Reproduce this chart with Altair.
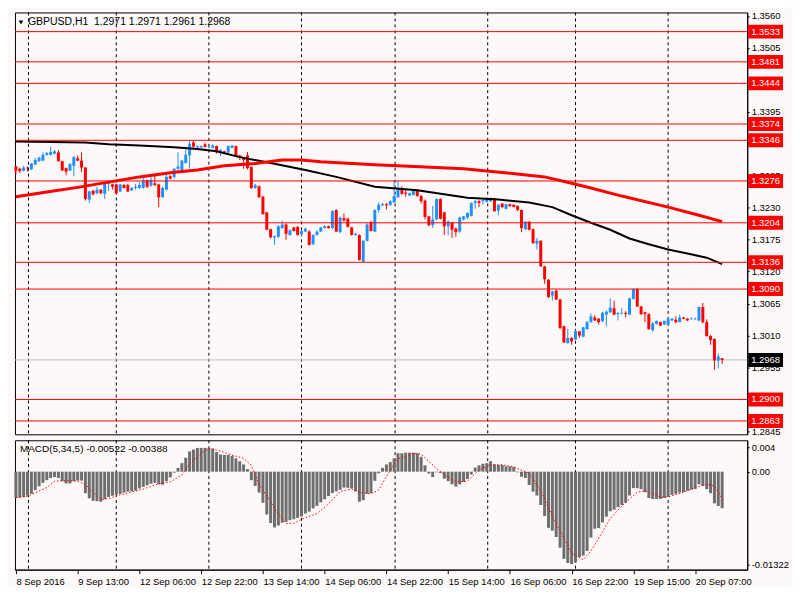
import altair as alt
import pandas as pd

# ---------------- data ----------------
opens = [
    1.3301, 1.3297, 1.3294, 1.3299, 1.3296, 1.3304, 1.3310, 1.3311, 1.3321, 1.3321,
    1.3323, 1.3325, 1.3310, 1.3298, 1.3294, 1.3302, 1.3315, 1.3311, 1.3299, 1.3244,
    1.3259, 1.3255, 1.3261, 1.3254, 1.3271, 1.3270, 1.3270, 1.3258, 1.3269, 1.3269,
    1.3260, 1.3264, 1.3264, 1.3264, 1.3277, 1.3268, 1.3272, 1.3270, 1.3248, 1.3261,
    1.3284, 1.3283, 1.3297, 1.3295, 1.3307, 1.3320, 1.3342, 1.3334, 1.3334, 1.3339,
    1.3334, 1.3333, 1.3336, 1.3326, 1.3327, 1.3325, 1.3333, 1.3336, 1.3320, 1.3315,
    1.3320, 1.3300, 1.3264, 1.3267, 1.3249, 1.3222, 1.3193, 1.3179, 1.3180, 1.3195,
    1.3201, 1.3183, 1.3196, 1.3197, 1.3184, 1.3189, 1.3189, 1.3167, 1.3183, 1.3189,
    1.3195, 1.3198, 1.3195, 1.3226, 1.3188, 1.3212, 1.3211, 1.3196, 1.3183, 1.3183,
    1.3137, 1.3173, 1.3205, 1.3189, 1.3226, 1.3234, 1.3236, 1.3235, 1.3239, 1.3248,
    1.3261, 1.3256, 1.3251, 1.3252, 1.3259, 1.3250, 1.3242, 1.3215, 1.3200, 1.3210,
    1.3245, 1.3222, 1.3198, 1.3204, 1.3194, 1.3189, 1.3210, 1.3213, 1.3216, 1.3238,
    1.3241, 1.3241, 1.3240, 1.3241, 1.3246, 1.3225, 1.3237, 1.3228, 1.3236, 1.3235,
    1.3233, 1.3226, 1.3193, 1.3206, 1.3193, 1.3168, 1.3173, 1.3129, 1.3106, 1.3079,
    1.3087, 1.3072, 1.3026, 1.2997, 1.3006, 1.3003, 1.3017, 1.3008, 1.3021, 1.3033,
    1.3041, 1.3039, 1.3035, 1.3046, 1.3050, 1.3057, 1.3047, 1.3048, 1.3049, 1.3046,
    1.3073, 1.3090, 1.3060, 1.3050, 1.3047, 1.3019, 1.3030, 1.3033, 1.3029, 1.3029,
    1.3036, 1.3037, 1.3033, 1.3041, 1.3039, 1.3038, 1.3038, 1.3036, 1.3059, 1.3033,
    1.3009, 1.3004, 1.2967, 1.2971,
]
highs = [
    1.3302, 1.3299, 1.3302, 1.3301, 1.3307, 1.3316, 1.3318, 1.3325, 1.3326, 1.3335,
    1.3329, 1.3329, 1.3311, 1.3299, 1.3307, 1.3319, 1.3320, 1.3325, 1.3300, 1.3259,
    1.3261, 1.3266, 1.3262, 1.3272, 1.3276, 1.3271, 1.3271, 1.3271, 1.3271, 1.3271,
    1.3266, 1.3271, 1.3274, 1.3281, 1.3278, 1.3284, 1.3287, 1.3271, 1.3266, 1.3290,
    1.3286, 1.3298, 1.3325, 1.3312, 1.3335, 1.3346, 1.3346, 1.3337, 1.3337, 1.3342,
    1.3338, 1.3339, 1.3337, 1.3331, 1.3328, 1.3337, 1.3338, 1.3337, 1.3321, 1.3317,
    1.3326, 1.3301, 1.3271, 1.3268, 1.3250, 1.3223, 1.3194, 1.3182, 1.3200, 1.3208,
    1.3203, 1.3193, 1.3197, 1.3198, 1.3191, 1.3196, 1.3191, 1.3184, 1.3191, 1.3197,
    1.3200, 1.3199, 1.3226, 1.3227, 1.3215, 1.3220, 1.3213, 1.3197, 1.3187, 1.3184,
    1.3174, 1.3203, 1.3208, 1.3227, 1.3239, 1.3238, 1.3238, 1.3243, 1.3277, 1.3277,
    1.3267, 1.3262, 1.3256, 1.3260, 1.3262, 1.3252, 1.3244, 1.3216, 1.3233, 1.3246,
    1.3246, 1.3223, 1.3208, 1.3205, 1.3196, 1.3215, 1.3216, 1.3222, 1.3239, 1.3243,
    1.3243, 1.3244, 1.3247, 1.3248, 1.3247, 1.3236, 1.3238, 1.3237, 1.3237, 1.3236,
    1.3234, 1.3227, 1.3207, 1.3207, 1.3194, 1.3178, 1.3174, 1.3130, 1.3107, 1.3087,
    1.3089, 1.3073, 1.3027, 1.3021, 1.3007, 1.3020, 1.3018, 1.3025, 1.3035, 1.3048,
    1.3045, 1.3040, 1.3051, 1.3053, 1.3074, 1.3070, 1.3050, 1.3057, 1.3052, 1.3075,
    1.3091, 1.3091, 1.3061, 1.3051, 1.3048, 1.3033, 1.3036, 1.3034, 1.3036, 1.3042,
    1.3040, 1.3043, 1.3046, 1.3042, 1.3040, 1.3041, 1.3041, 1.3060, 1.3066, 1.3038,
    1.3011, 1.3005, 1.2979, 1.2971,
]
lows = [
    1.3287, 1.3290, 1.3292, 1.3292, 1.3295, 1.3304, 1.3309, 1.3310, 1.3319, 1.3320,
    1.3322, 1.3309, 1.3293, 1.3286, 1.3293, 1.3284, 1.3310, 1.3291, 1.3242, 1.3238,
    1.3251, 1.3253, 1.3253, 1.3245, 1.3259, 1.3261, 1.3253, 1.3257, 1.3263, 1.3257,
    1.3259, 1.3261, 1.3262, 1.3263, 1.3264, 1.3266, 1.3267, 1.3231, 1.3247, 1.3260,
    1.3279, 1.3280, 1.3295, 1.3294, 1.3306, 1.3297, 1.3333, 1.3332, 1.3332, 1.3333,
    1.3332, 1.3332, 1.3323, 1.3319, 1.3323, 1.3323, 1.3332, 1.3317, 1.3312, 1.3297,
    1.3296, 1.3262, 1.3262, 1.3247, 1.3218, 1.3191, 1.3177, 1.3166, 1.3178, 1.3193,
    1.3175, 1.3182, 1.3189, 1.3182, 1.3182, 1.3188, 1.3165, 1.3166, 1.3182, 1.3188,
    1.3194, 1.3194, 1.3193, 1.3188, 1.3186, 1.3206, 1.3196, 1.3182, 1.3182, 1.3139,
    1.3136, 1.3172, 1.3189, 1.3188, 1.3221, 1.3233, 1.3227, 1.3233, 1.3238, 1.3247,
    1.3252, 1.3249, 1.3250, 1.3251, 1.3249, 1.3237, 1.3210, 1.3198, 1.3195, 1.3208,
    1.3210, 1.3183, 1.3183, 1.3178, 1.3180, 1.3187, 1.3208, 1.3211, 1.3215, 1.3228,
    1.3231, 1.3235, 1.3239, 1.3240, 1.3223, 1.3217, 1.3229, 1.3227, 1.3231, 1.3231,
    1.3224, 1.3188, 1.3192, 1.3191, 1.3168, 1.3158, 1.3128, 1.3099, 1.3075, 1.3070,
    1.3071, 1.3021, 1.2997, 1.2996, 1.2994, 1.3002, 1.3006, 1.3007, 1.3020, 1.3032,
    1.3035, 1.3029, 1.3033, 1.3026, 1.3049, 1.3045, 1.3036, 1.3046, 1.3041, 1.3045,
    1.3072, 1.3059, 1.3045, 1.3033, 1.3020, 1.3017, 1.3029, 1.3026, 1.3028, 1.3028,
    1.3035, 1.3031, 1.3033, 1.3038, 1.3035, 1.3037, 1.3037, 1.3034, 1.3031, 1.3008,
    1.2994, 1.2951, 1.2953, 1.2961,
]
closes = [
    1.3294, 1.3293, 1.3299, 1.3298, 1.3306, 1.3312, 1.3316, 1.3321, 1.3324, 1.3326,
    1.3327, 1.3310, 1.3294, 1.3292, 1.3305, 1.3317, 1.3311, 1.3299, 1.3245, 1.3258,
    1.3253, 1.3261, 1.3255, 1.3271, 1.3274, 1.3266, 1.3255, 1.3270, 1.3264, 1.3258,
    1.3264, 1.3266, 1.3269, 1.3277, 1.3266, 1.3278, 1.3269, 1.3248, 1.3264, 1.3283,
    1.3280, 1.3297, 1.3301, 1.3311, 1.3321, 1.3340, 1.3335, 1.3336, 1.3336, 1.3335,
    1.3335, 1.3337, 1.3325, 1.3329, 1.3324, 1.3336, 1.3337, 1.3319, 1.3316, 1.3312,
    1.3298, 1.3264, 1.3269, 1.3248, 1.3219, 1.3192, 1.3179, 1.3181, 1.3198, 1.3201,
    1.3185, 1.3191, 1.3190, 1.3183, 1.3190, 1.3194, 1.3166, 1.3183, 1.3189, 1.3196,
    1.3198, 1.3195, 1.3224, 1.3189, 1.3213, 1.3208, 1.3197, 1.3183, 1.3185, 1.3140,
    1.3173, 1.3201, 1.3190, 1.3226, 1.3235, 1.3236, 1.3234, 1.3241, 1.3250, 1.3261,
    1.3254, 1.3254, 1.3255, 1.3259, 1.3250, 1.3241, 1.3214, 1.3200, 1.3210, 1.3245,
    1.3211, 1.3198, 1.3206, 1.3192, 1.3188, 1.3213, 1.3215, 1.3221, 1.3238, 1.3241,
    1.3238, 1.3243, 1.3245, 1.3246, 1.3224, 1.3235, 1.3231, 1.3236, 1.3233, 1.3231,
    1.3226, 1.3195, 1.3206, 1.3192, 1.3169, 1.3173, 1.3129, 1.3107, 1.3076, 1.3086,
    1.3072, 1.3023, 1.2998, 1.3006, 1.3000, 1.3018, 1.3010, 1.3024, 1.3033, 1.3043,
    1.3036, 1.3033, 1.3049, 1.3051, 1.3058, 1.3046, 1.3049, 1.3049, 1.3047, 1.3074,
    1.3090, 1.3060, 1.3047, 1.3047, 1.3021, 1.3031, 1.3035, 1.3027, 1.3035, 1.3038,
    1.3039, 1.3033, 1.3041, 1.3039, 1.3036, 1.3039, 1.3039, 1.3059, 1.3033, 1.3009,
    1.3002, 1.2967, 1.2974, 1.2968,
]

# moving averages (bar index, price)
black_ma_idx = [0, 9, 18, 24, 32, 41, 47, 52, 58, 66, 75, 83, 93, 104, 117, 125, 133,
                139, 144, 149, 154, 159, 164, 169, 174, 179, 183]
black_ma_val = [1.3344, 1.3343, 1.3342, 1.3339, 1.3337, 1.3334, 1.3331, 1.3327, 1.3317,
                1.3307, 1.3295, 1.3283, 1.3266, 1.3260, 1.3247, 1.3244, 1.3239, 1.3231,
                1.3217, 1.3204, 1.3192, 1.3177, 1.3167, 1.3158, 1.3151, 1.3144, 1.3133]
red_ma_idx = [0, 8, 16, 24, 32, 41, 47, 54, 62, 69, 74, 79, 93, 99, 116, 124, 137, 144,
              149, 157, 169, 177, 183]
red_ma_val = [1.3249, 1.3257, 1.3265, 1.3274, 1.3283, 1.3291, 1.3295, 1.3302, 1.3306,
              1.3312, 1.3312, 1.3309, 1.3304, 1.3302, 1.3297, 1.3292, 1.3283, 1.3272,
              1.3264, 1.3250, 1.3231, 1.3217, 1.3206]

# MACD(5,34,5) histogram per bar and signal line
macd_hist = [
    -0.00371, -0.00371, -0.00362, -0.00344, -0.00317, -0.00263, -0.00208, -0.00159, -0.00122, -0.00091,
    -0.00077, -0.00091, -0.00136, -0.00168, -0.00168, -0.00136, -0.00127, -0.00127, -0.00308, -0.00381,
    -0.00417, -0.00421, -0.00430, -0.00394, -0.00362, -0.00344, -0.00326, -0.00317, -0.00299, -0.00285,
    -0.00281, -0.00272, -0.00240, -0.00217, -0.00195, -0.00172, -0.00159, -0.00181, -0.00186, -0.00136,
    -0.00082, -0.00014, 0.00054, 0.00122, 0.00199, 0.00290, 0.00317, 0.00340, 0.00340, 0.00340,
    0.00340, 0.00331, 0.00281, 0.00245, 0.00240, 0.00240, 0.00227, 0.00190, 0.00149, 0.00104,
    0.00036, -0.00122, -0.00204, -0.00299, -0.00444, -0.00612, -0.00734, -0.00797, -0.00770, -0.00729,
    -0.00716, -0.00693, -0.00680, -0.00661, -0.00639, -0.00598, -0.00571, -0.00525, -0.00489, -0.00439,
    -0.00394, -0.00349, -0.00304, -0.00281, -0.00258, -0.00227, -0.00231, -0.00240, -0.00281, -0.00430,
    -0.00408, -0.00317, -0.00304, -0.00131, -0.00023, 0.00054, 0.00104, 0.00136, 0.00190, 0.00263,
    0.00263, 0.00272, 0.00272, 0.00272, 0.00263, 0.00213, 0.00091, -0.00027, -0.00077, -0.00009,
    -0.00018, -0.00100, -0.00136, -0.00181, -0.00213, -0.00181, -0.00145, -0.00104, -0.00041, 0.00059,
    0.00091, 0.00113, 0.00122, 0.00149, 0.00104, 0.00095, 0.00095, 0.00077, 0.00077, 0.00068,
    -0.00009, -0.00072, -0.00091, -0.00190, -0.00285, -0.00340, -0.00476, -0.00634, -0.00802, -0.00843,
    -0.00933, -0.01087, -0.01246, -0.01305, -0.01322, -0.01296, -0.01223, -0.01200, -0.01133, -0.00942,
    -0.00815, -0.00806, -0.00725, -0.00643, -0.00566, -0.00544, -0.00507, -0.00476, -0.00444, -0.00340,
    -0.00236, -0.00236, -0.00249, -0.00294, -0.00376, -0.00390, -0.00390, -0.00390, -0.00376, -0.00362,
    -0.00331, -0.00317, -0.00299, -0.00290, -0.00272, -0.00258, -0.00249, -0.00181, -0.00204, -0.00249,
    -0.00308, -0.00453, -0.00490, -0.00522,
]
signal_idx = [0, 3, 8, 10, 13, 16, 18, 20, 22, 24, 27, 33, 37, 40, 43, 45, 48, 50, 53, 56,
              59, 61, 63, 66, 68, 70, 72, 74, 78, 81, 84, 87, 89, 92, 94, 96, 98, 99, 103,
              105, 109, 111, 114, 117, 120, 123, 126, 129, 133, 136, 139, 142, 144, 147,
              149, 152, 154, 157, 161, 163, 167, 169, 173, 176, 179, 181, 183]
signal_val = [-0.00371, -0.00353, -0.00227, -0.00136, -0.00127, -0.00136, -0.00181, -0.00294,
              -0.00399, -0.00385, -0.00331, -0.00249, -0.00172, -0.00145, -0.00045, 0.00113,
              0.00263, 0.00331, 0.00294, 0.00236, 0.00190, 0.00091, -0.00181, -0.00430,
              -0.00612, -0.00738, -0.00738, -0.00680, -0.00598, -0.00462, -0.00281, -0.00249,
              -0.00294, -0.00317, -0.00263, -0.00068, 0.00100, 0.00181, 0.00263, 0.00249,
              0.00045, -0.00045, -0.00145, -0.00136, 0.00023, 0.00100, 0.00100, 0.00068,
              -0.00023, -0.00272, -0.00634, -0.00951, -0.01169, -0.01259, -0.01133, -0.00861,
              -0.00670, -0.00489, -0.00294, -0.00272, -0.00362, -0.00362, -0.00294, -0.00227,
              -0.00181, -0.00204, -0.00388]

# horizontal levels, bid, axis ticks
levels = [1.3533, 1.3481, 1.3444, 1.3374, 1.3346, 1.3276, 1.3204, 1.3136, 1.3090, 1.2900, 1.2863]
bid_price = 1.2968
price_ticks = [1.2845, 1.2955, 1.3010, 1.3065, 1.3120, 1.3175, 1.3230, 1.3285,
               1.3340, 1.3395, 1.3505, 1.3560]
grid_idx = [3.25, 26, 50, 74, 98.25, 122.25, 145, 169]
x_tick_idx = [0, 16, 32, 48, 64, 80, 96, 112, 128, 144, 160, 176]
x_tick_labels = ["8 Sep 2016", "9 Sep 13:00", "12 Sep 06:00", "12 Sep 22:00", "13 Sep 14:00",
                 "14 Sep 06:00", "14 Sep 22:00", "15 Sep 14:00", "16 Sep 06:00", "16 Sep 22:00",
                 "19 Sep 15:00", "20 Sep 07:00"]
macd_ticks = [0.0035, 0.0, -0.01322]
macd_tick_labels = ["0.004", "0.00", "-0.01322"]
title_text = "GBPUSD,H1\u00a0 1.2971 1.2971 1.2961 1.2968"
macd_text = "MACD(5,34,5) -0.00522 -0.00388"

# ---------------- tables ----------------
n = len(opens)
candles = pd.DataFrame({"i": list(range(n)), "o": opens, "h": highs, "l": lows, "c": closes})
candles["dir"] = ["up" if c >= o else "down" for o, c in zip(opens, closes)]
black_df = pd.DataFrame({"i": black_ma_idx, "v": black_ma_val})
red_df = pd.DataFrame({"i": red_ma_idx, "v": red_ma_val})
lev_df = pd.DataFrame({"v": levels, "lbl": [f"{v:.4f}" for v in levels]})
bid_df = pd.DataFrame({"v": [bid_price], "lbl": [f"{bid_price:.4f}"]})
grid_df = pd.DataFrame({"g": grid_idx})
hist_df = pd.DataFrame({"i": list(range(n)), "m": macd_hist})
sig_df = pd.DataFrame({"i": signal_idx, "s": signal_val})
title_df = pd.DataFrame({"t": [title_text]})
macd_txt_df = pd.DataFrame({"t": [macd_text]})

# ---------------- styling ----------------
W = 736
H1 = 424
H2 = 130
FONT = "Liberation Sans"
FS = 9.5
BG = "#FDF9F8"
BLUE = "#1E90FF"
RED = "#FF0000"

xs = alt.Scale(domain=[-0.25, 189.5], nice=False, zero=False, padding=0)
ys = alt.Scale(domain=[1.2840, 1.3566], nice=False, zero=False, padding=0)
ms = alt.Scale(domain=[-0.0140, 0.00449], nice=False, zero=False, padding=0)

price_axis = alt.Axis(orient="right", values=price_ticks, format=".4f", title=None, grid=False,
                      tickSize=2, labelPadding=2, labelFont=FONT, labelFontSize=FS,
                      labelColor="black", domainColor="black", tickColor="black",
                      labelFlush=False, labelOverlap=False)

macd_expr = "".join(f"datum.value == {v} ? '{s}' : " for v, s in zip(macd_ticks, macd_tick_labels)) + "''"
macd_axis = alt.Axis(orient="right", values=macd_ticks, labelExpr=macd_expr, title=None, grid=False,
                     tickSize=2, labelPadding=2, labelFont=FONT, labelFontSize=FS,
                     labelColor="black", domainColor="black", tickColor="black",
                     labelFlush=False, labelOverlap=False)

x_expr = "".join(f"datum.value == {v} ? '{s}' : " for v, s in zip(x_tick_idx, x_tick_labels)) + "''"
time_axis = alt.Axis(orient="bottom", values=x_tick_idx, labelExpr=x_expr, title=None, grid=False,
                     tickSize=4, labelPadding=3, labelAlign="left", labelFont=FONT,
                     labelFontSize=FS, labelColor="black", domainColor="black",
                     tickColor="black", labelFlush=False, labelOverlap=False)


def py(field):
    return alt.Y(field, type="quantitative", scale=ys, axis=price_axis)


xh = alt.X("i:Q", scale=xs, axis=None)
col = alt.Color("dir:N", scale=alt.Scale(domain=["up", "down"], range=[BLUE, RED]), legend=None)

grid_main = alt.Chart(grid_df).mark_rule(color="black", strokeDash=[3, 3], strokeWidth=1).encode(
    x=alt.X("g:Q", scale=xs, axis=None))
bid_line = alt.Chart(bid_df).mark_rule(color="#C0C0C0", strokeWidth=1).encode(y=py("v:Q"))
wicks = alt.Chart(candles).mark_rule(strokeWidth=1).encode(x=xh, y=py("l:Q"), y2="h:Q", color=col)
bodies = alt.Chart(candles).mark_rule(strokeWidth=3, strokeCap="butt").encode(
    x=xh, y=py("o:Q"), y2="c:Q", color=col)
black_line = alt.Chart(black_df).mark_line(color="black", strokeWidth=2).encode(x=xh, y=py("v:Q"))
red_line = alt.Chart(red_df).mark_line(color=RED, strokeWidth=3).encode(x=xh, y=py("v:Q"))
lev_lines = alt.Chart(lev_df).mark_rule(color=RED, strokeWidth=1).encode(y=py("v:Q"))
lev_boxes = alt.Chart(lev_df).mark_rect(color=RED, yOffset=-7, y2Offset=7).encode(
    x=alt.value(W + 1), x2=alt.value(W + 36), y=py("v:Q"), y2="v:Q")
lev_text = alt.Chart(lev_df).mark_text(align="left", baseline="middle", color="white",
                                       font=FONT, fontSize=FS).encode(
    x=alt.value(W + 4), y=py("v:Q"), text="lbl:N")
bid_box = alt.Chart(bid_df).mark_rect(color="black", yOffset=-7, y2Offset=7).encode(
    x=alt.value(W + 1), x2=alt.value(W + 36), y=py("v:Q"), y2="v:Q")
bid_text = alt.Chart(bid_df).mark_text(align="left", baseline="middle", color="white",
                                       font=FONT, fontSize=FS).encode(
    x=alt.value(W + 4), y=py("v:Q"), text="lbl:N")
tri = alt.Chart(title_df).mark_point(shape="triangle-down", filled=True, color="black",
                                     size=22, opacity=1).encode(x=alt.value(6), y=alt.value(10))
title = alt.Chart(title_df).mark_text(align="left", baseline="middle", color="black",
                                      font=FONT, fontSize=10.5).encode(
    x=alt.value(13), y=alt.value(10), text="t:N")

main = alt.layer(grid_main, bid_line, wicks, bodies, black_line, red_line, lev_lines,
                 lev_boxes, lev_text, bid_box, bid_text, tri, title).properties(width=W, height=H1)

xm = alt.X("i:Q", scale=xs, axis=time_axis)
grid_macd = alt.Chart(grid_df).mark_rule(color="black", strokeDash=[3, 3], strokeWidth=1).encode(
    x=alt.X("g:Q", scale=xs, axis=time_axis))
hist = alt.Chart(hist_df).mark_bar(size=3, color="#6E6E6E").encode(
    x=xm, y=alt.Y("m:Q", scale=ms, axis=macd_axis), y2=alt.datum(0))
signal = alt.Chart(sig_df).mark_line(color=RED, strokeWidth=1, strokeDash=[1.5, 2]).encode(
    x=xm, y=alt.Y("s:Q", scale=ms, axis=macd_axis))
macd_label = alt.Chart(macd_txt_df).mark_text(align="left", baseline="middle", color="black",
                                              font=FONT, fontSize=10).encode(
    x=alt.value(5), y=alt.value(9), text="t:N")

macd = alt.layer(grid_macd, hist, signal, macd_label).properties(width=W, height=H2)

chart = alt.vconcat(main, macd, spacing=2).properties(
    background=BG, padding={"left": 1, "top": 1, "right": 2, "bottom": 0}
).configure_view(stroke="black", strokeWidth=1, fill=BG)

chart.save("out.html", embed_options={"renderer": "svg", "actions": False})
